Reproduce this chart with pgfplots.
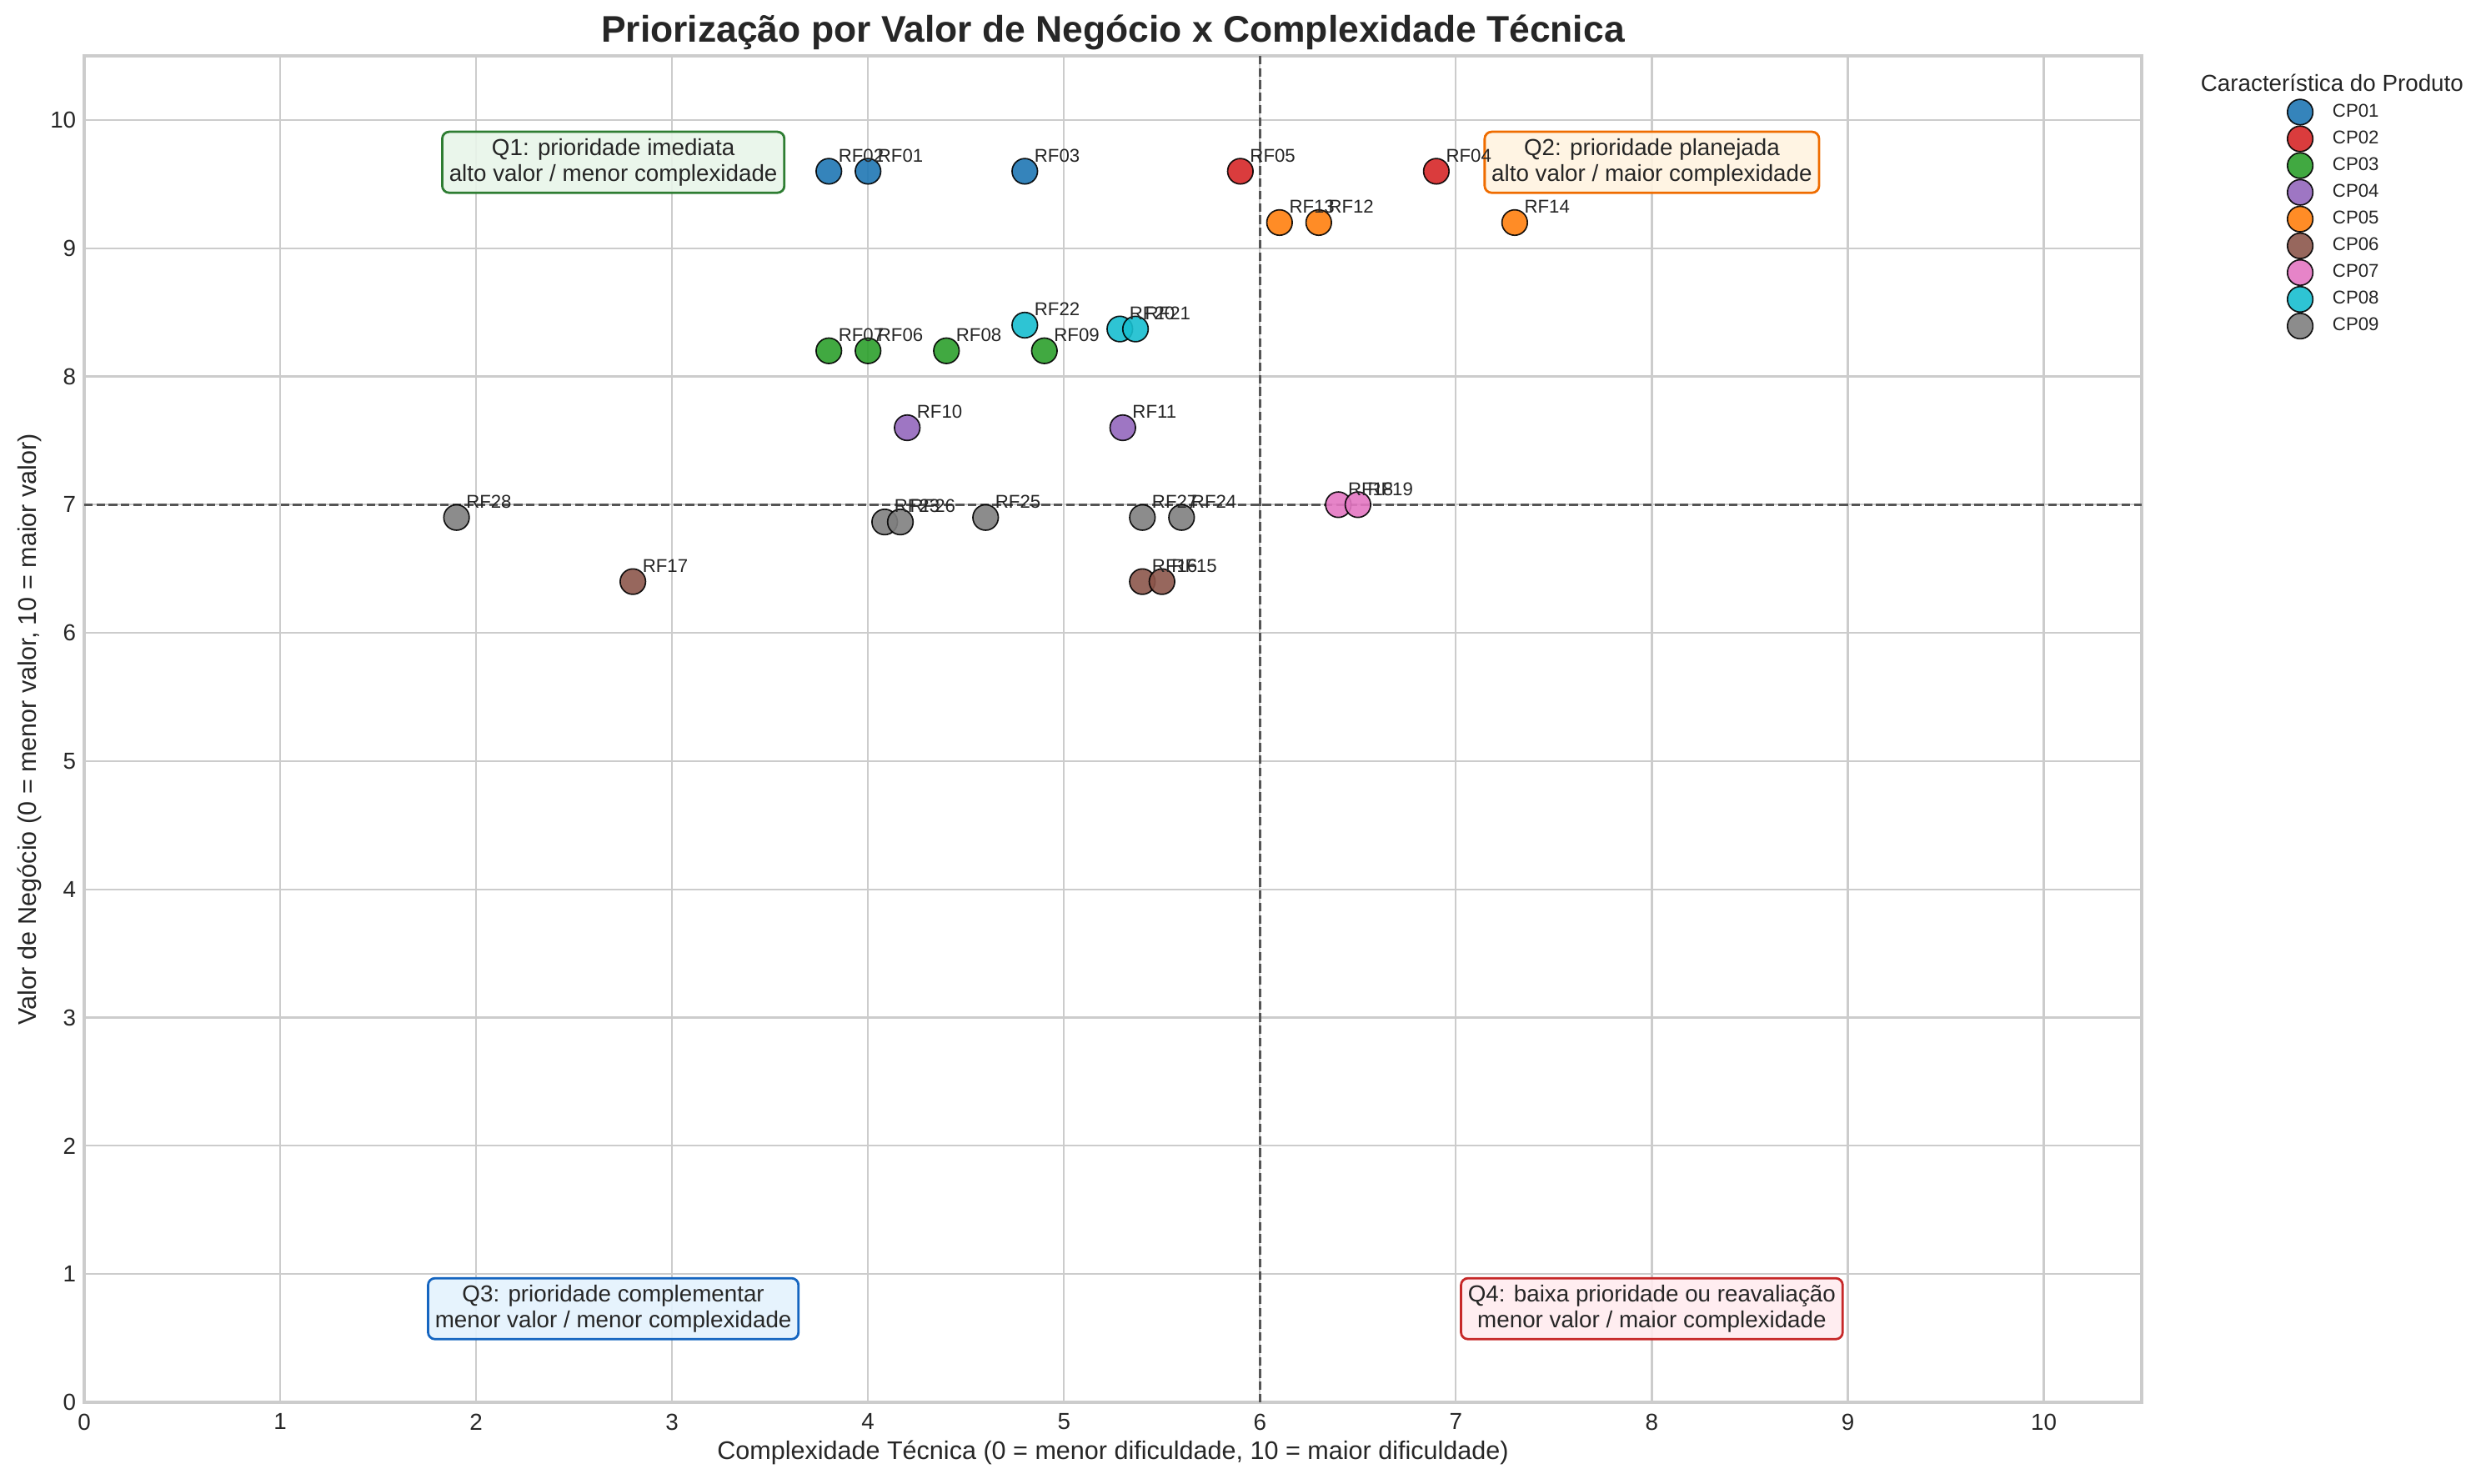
\documentclass[border=0pt]{standalone}
\usepackage{fontspec}
\setmainfont{Liberation Sans}
\usepackage{pgfplots}
\usepackage{pgfplotstable}
\pgfplotsset{compat=1.18}
\definecolor{txt}{HTML}{262626}
\definecolor{gridc}{HTML}{CCCCCC}
\definecolor{dashc}{HTML}{555555}
\definecolor{cA}{HTML}{1F77B4}
\definecolor{cB}{HTML}{D62728}
\definecolor{cC}{HTML}{2CA02C}
\definecolor{cD}{HTML}{9467BD}
\definecolor{cE}{HTML}{FF7F0E}
\definecolor{cF}{HTML}{8C564B}
\definecolor{cG}{HTML}{E377C2}
\definecolor{cH}{HTML}{17BECF}
\definecolor{cI}{HTML}{7F7F7F}
\definecolor{qAf}{HTML}{E8F5E9}\definecolor{qAe}{HTML}{2E7D32}
\definecolor{qBf}{HTML}{FFF3E0}\definecolor{qBe}{HTML}{EF6C00}
\definecolor{qCf}{HTML}{E3F2FD}\definecolor{qCe}{HTML}{1565C0}
\definecolor{qDf}{HTML}{FFEBEE}\definecolor{qDe}{HTML}{C62828}

\pgfplotstableread{
x y label
3.8 9.6 RF02
4.0 9.6 RF01
4.8 9.6 RF03
}\cpA
\pgfplotstableread{
x y label
5.9 9.6 RF05
6.9 9.6 RF04
}\cpB
\pgfplotstableread{
x y label
3.8 8.2 RF07
4.0 8.2 RF06
4.4 8.2 RF08
4.9 8.2 RF09
}\cpC
\pgfplotstableread{
x y label
4.2 7.6 RF10
5.3 7.6 RF11
}\cpD
\pgfplotstableread{
x y label
6.1 9.2 RF13
6.3 9.2 RF12
7.3 9.2 RF14
}\cpE
\pgfplotstableread{
x y label
2.8 6.4 RF17
5.4 6.4 RF16
5.5 6.4 RF15
}\cpF
\pgfplotstableread{
x y label
6.4 7.0 RF18
6.5 7.0 RF19
}\cpG
\pgfplotstableread{
x y label
4.8 8.4 RF22
5.285 8.37 RF20
5.365 8.37 RF21
}\cpH
\pgfplotstableread{
x y label
1.9 6.9 RF28
4.085 6.865 RF23
4.165 6.865 RF26
4.6 6.9 RF25
5.4 6.9 RF27
5.6 6.9 RF24
}\cpI

\pgfplotsset{
  cp/.style={only marks, mark=*, mark size=5.5pt, color=#1,
    mark options={fill=#1, draw=black, line width=0.6pt, fill opacity=0.9, draw opacity=0.9}},
  lab/.style={forget plot, only marks, mark=none, nodes near coords, point meta=explicit symbolic,
    nodes near coords style={font=\fontsize{8}{9.6}\selectfont, text=txt, anchor=base west, inner sep=0pt, xshift=4pt, yshift=4pt}},
}
\tikzset{
  qbox/.style={align=center, rounded corners=3pt, inner sep=3pt, line width=1pt, fill opacity=0.9, text opacity=1,
    font=\fontsize{10}{11}\selectfont, text=txt},
}

\begin{document}
\begin{tikzpicture}
\useasboundingbox (-36.36pt,-34.92pt) rectangle (1037.16pt,605.52pt);
\begin{axis}[
  at={(0,0)}, anchor=south west, scale only axis,
  width=888.5pt, height=581.4pt,
  xmin=0, xmax=10.5, ymin=0, ymax=10.5,
  xtick={0,1,...,10}, ytick={0,1,...,10},
  grid=major, major grid style={draw=gridc, line width=0.8pt},
  axis line style={draw=gridc, line width=1.25pt},
  tick style={draw=none},
  /pgf/number format/assume math mode=true,
  ticklabel style={font=\fontsize{10}{12}\selectfont, text=txt},
  xticklabel style={yshift=-1.4pt},
  xlabel={Complexidade Técnica (0 = menor dificuldade, 10 = maior dificuldade)},
  xlabel style={at={(axis description cs:0.5,-0.0427)}, anchor=base, font=\fontsize{11}{13.2}\selectfont, text=txt},
  ylabel={Valor de Negócio (0 = menor valor, 10 = maior valor)},
  ylabel style={at={(axis description cs:-0.0235,0.5)}, anchor=base, font=\fontsize{11}{13.2}\selectfont, text=txt},
  legend image code/.code={\draw[#1] plot coordinates {(0pt,0pt)};},
  legend cell align=left,
  legend style={at={(axis description cs:1.0708,0.9677)}, anchor=north west, draw=none, fill=none,
    inner sep=0pt, outer sep=0pt, row sep=0.55pt, column sep=8.5pt,
    font=\fontsize{8}{9.6}\selectfont, text=txt, nodes={inner sep=0pt}},
]
\addplot[cp=cA] table[x=x,y=y] {\cpA}; \addlegendentry{CP01}
\addplot[cp=cB] table[x=x,y=y] {\cpB}; \addlegendentry{CP02}
\addplot[cp=cC] table[x=x,y=y] {\cpC}; \addlegendentry{CP03}
\addplot[cp=cD] table[x=x,y=y] {\cpD}; \addlegendentry{CP04}
\addplot[cp=cE] table[x=x,y=y] {\cpE}; \addlegendentry{CP05}
\addplot[cp=cF] table[x=x,y=y] {\cpF}; \addlegendentry{CP06}
\addplot[cp=cG] table[x=x,y=y] {\cpG}; \addlegendentry{CP07}
\addplot[cp=cH] table[x=x,y=y] {\cpH}; \addlegendentry{CP08}
\addplot[cp=cI] table[x=x,y=y] {\cpI}; \addlegendentry{CP09}

\addplot[forget plot, draw=dashc, line width=1pt, dash pattern=on 3.7pt off 1.6pt] coordinates {(6,0) (6,10.5)};
\addplot[forget plot, draw=dashc, line width=1pt, dash pattern=on 3.7pt off 1.6pt] coordinates {(0,7) (10.5,7)};

\addplot[lab] table[x=x,y=y,meta=label] {\cpA};
\addplot[lab] table[x=x,y=y,meta=label] {\cpB};
\addplot[lab] table[x=x,y=y,meta=label] {\cpC};
\addplot[lab] table[x=x,y=y,meta=label] {\cpD};
\addplot[lab] table[x=x,y=y,meta=label] {\cpE};
\addplot[lab] table[x=x,y=y,meta=label] {\cpF};
\addplot[lab] table[x=x,y=y,meta=label] {\cpG};
\addplot[lab] table[x=x,y=y,meta=label] {\cpH};
\addplot[lab] table[x=x,y=y,meta=label] {\cpI};

\node[qbox, fill=qAf, draw=qAe] at (axis cs:2.7,9.67) {Q1: prioridade imediata\\alto valor / menor complexidade};
\node[qbox, fill=qBf, draw=qBe] at (axis cs:8.0,9.67) {Q2: prioridade planejada\\alto valor / maior complexidade};
\node[qbox, fill=qCf, draw=qCe] at (axis cs:2.7,0.73) {Q3: prioridade complementar\\menor valor / menor complexidade};
\node[qbox, fill=qDf, draw=qDe] at (axis cs:8.0,0.73) {Q4: baixa prioridade ou reavaliação\\menor valor / maior complexidade};
\end{axis}
\node[anchor=base, font=\fontsize{16}{19.2}\selectfont\bfseries, text=txt] at (444.25pt,587.2pt) {Priorização por Valor de Negócio x Complexidade Técnica};
\node[anchor=base, font=\fontsize{10}{12}\selectfont, text=txt] at (970.7pt,566.2pt) {Característica do Produto};
\end{tikzpicture}
\end{document}
